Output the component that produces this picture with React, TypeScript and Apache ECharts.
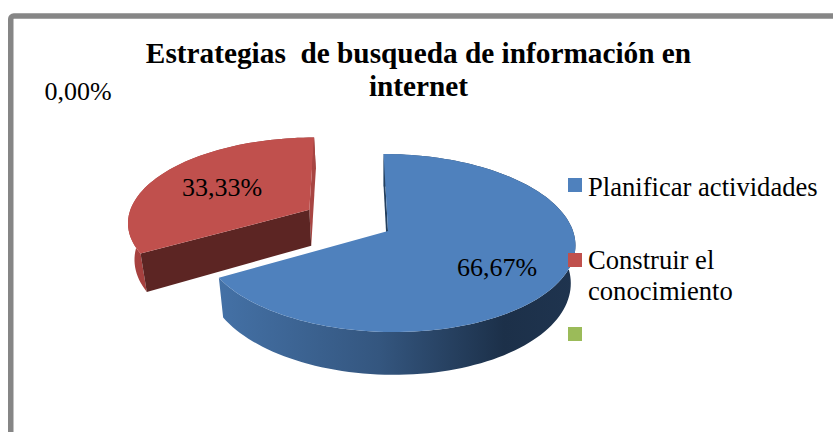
import React, { useEffect, useRef } from "react";
import * as echarts from "echarts";

const categories = ["Planificar actividades", "Construir el\nconocimiento", ""];
const shares = [66.67, 33.33, 0];
const shareLabels = ["66,67%", "33,33%", "0,00%"];
const titleText = "Estrategias  de busqueda de información en\ninternet";
const topColors = ["#4F81BD", "#C0504D", "#9BBB59"];
const exploded = [0, 0.5, 0];

const CX = 388, CY = 231, RX = 185, RY = 87.4, K = 0.135, DEPTH = 37, BOTTOM_X = 0.975, LEAN = 5;
const FONT = '"Liberation Serif", "Times New Roman", serif';

function project(u: number, v: number, low: boolean): number[] {
  const w = 1 - K * v;
  return [
    CX + (RX * u * (low ? BOTTOM_X : 1) + LEAN * v) / w,
    CY + (RY * v + (low ? DEPTH : 0)) / w,
  ];
}

function arcPoints(a0: number, a1: number, ou: number, ov: number, low: boolean): number[][] {
  const pts: number[][] = [];
  const n = Math.max(2, Math.ceil(Math.abs(a1 - a0) / 2));
  for (let i = 0; i <= n; i++) {
    const a = ((a0 + ((a1 - a0) * i) / n) * Math.PI) / 180;
    pts.push(project(ou + Math.sin(a), ov - Math.cos(a), low));
  }
  return pts;
}

function sliceShapes(index: number) {
  const total = shares.reduce((s, x) => s + x, 0);
  const before = shares.slice(0, index).reduce((s, x) => s + x, 0);
  const a0 = (before / total) * 360;
  const a1 = ((before + shares[index]) / total) * 360;
  const mid = (((a0 + a1) / 2) * Math.PI) / 180;
  const ou = Math.sin(mid) * exploded[index];
  const ov = -Math.cos(mid) * exploded[index];
  return { a0, a1, ou, ov };
}

function renderSlice(index: number) {
  const { a0, a1, ou, ov } = sliceShapes(index);
  const top = arcPoints(a0, a1, ou, ov, false);
  const low = arcPoints(a0, a1, ou, ov, true);
  const centerTop = project(ou, ov, false);
  const centerLow = project(ou, ov, true);
  const isBlue = index === 0;
  const wallFill = isBlue
    ? new echarts.graphic.LinearGradient(0, 0, 1, 0, [
        { offset: 0, color: "#4471A6" },
        { offset: 0.45, color: "#34567F" },
        { offset: 0.8, color: "#1C3049" },
        { offset: 1, color: "#1F344F" },
      ])
    : new echarts.graphic.LinearGradient(0, 0, 1, 0, [
        { offset: 0, color: "#A8413F" },
        { offset: 1, color: "#8A3735" },
      ]);
  const startWall = {
    type: "polygon",
    shape: { points: [centerTop, top[0], low[0], centerLow] },
    style: { fill: isBlue ? "#24405F" : "#5C2523" },
  };
  const endWall = {
    type: "polygon",
    shape: { points: [centerTop, top[top.length - 1], low[low.length - 1], centerLow] },
    style: { fill: "#A84542" },
  };
  const children: any[] = [
    {
      type: "polygon",
      shape: { points: [...top, ...low.slice().reverse()] },
      style: { fill: wallFill },
    },
    // the blue slice's closing wall faces away from the viewer
    ...(isBlue ? [startWall] : [endWall, startWall]),
    {
      type: "polygon",
      shape: { points: [centerTop, ...top] },
      style: { fill: topColors[index] },
    },
  ];
  return { type: "group", children };
}

export default function App() {
  const ref = useRef<HTMLDivElement>(null);
  useEffect(() => {
    const chart = echarts.init(ref.current!, null, { renderer: "svg" });
    const labelPos = [
      [497, 267],
      [222, 187],
      [78, 91],
    ];
    const legendY = [185, 260, 334];
    const legendTextY = [171, 244];
    chart.setOption({
      animation: false,
      backgroundColor: "#ffffff",
      title: {
        text: titleText,
        left: 413.5,
        top: 31,
        textAlign: "center",
        textStyle: { fontFamily: FONT, fontSize: 29.3, fontWeight: "bold", color: "#000", lineHeight: 33 },
      },
      series: [
        {
          type: "custom",
          coordinateSystem: "none",
          silent: true,
          // red is painted first so the blue slice lies over it
          data: [1, 0].map((i) => ({ value: [i, shares[i]], name: categories[i] })),
          renderItem: (_p: any, api: any) => renderSlice(api.value(0)),
        },
      ],
      graphic: [
        {
          type: "rect",
          shape: { x: 10.75, y: 16, width: 900, height: 500, r: 3 },
          style: { fill: "none", stroke: "#868686", lineWidth: 5.5 },
          silent: true,
        },
        ...shareLabels.map((t, i) => ({
          type: "text",
          x: labelPos[i][0],
          y: labelPos[i][1],
          z: 10,
          style: { text: t, font: `26px ${FONT}`, fill: "#000", align: "center", verticalAlign: "middle" },
        })),
        ...categories.map((c, i) => ({
          type: "rect",
          z: 10,
          shape: { x: 568, y: legendY[i] - 7, width: 14, height: 14 },
          style: { fill: topColors[i] },
        })),
        ...categories
          .filter((c) => c)
          .map((c, i) => ({
            type: "text",
            x: 588,
            y: legendTextY[i],
            z: 10,
            style: { text: c, font: `26.6px ${FONT}`, fill: "#000", lineHeight: 31, align: "left", verticalAlign: "top" },
          })),
      ],
    });
    return () => chart.dispose();
  }, []);
  return <div ref={ref} style={{ position: "fixed", left: 0, top: 0, width: 833, height: 432 }} />;
}
